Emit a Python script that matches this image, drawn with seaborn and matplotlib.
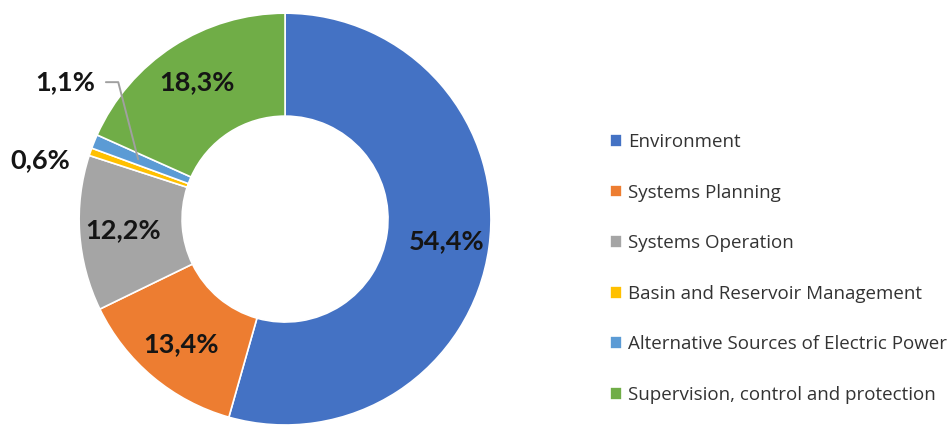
import numpy as np
import matplotlib
matplotlib.use("Agg")
import matplotlib.pyplot as plt
import seaborn as sns

# Data
categories = ["Environment", "Systems Planning", "Systems Operation",
              "Basin and Reservoir Management", "Alternative Sources of Electric Power",
              "Supervision, control and protection"]
shares = [54.4, 13.4, 12.2, 0.6, 1.1, 18.3]
pct_labels = ["54,4%", "13,4%", "12,2%", "0,6%", "1,1%", "18,3%"]
colors = ["#4472C4", "#ED7D31", "#A5A5A5", "#FFC000", "#5B9BD5", "#70AD47"]

sns.set_theme(style="white")
plt.rcParams['font.family'] = ['Lato', 'DejaVu Sans']

fig = plt.figure(figsize=(9.5, 4.25), dpi=100)
ax = fig.add_axes([0.0832, 0.0, 0.4337, 0.969])

wedges, _ = ax.pie(shares, colors=sns.color_palette(colors), startangle=90,
                   counterclock=False, radius=1.0,
                   wedgeprops=dict(width=0.5, edgecolor="white", linewidth=1.2))
ax.set_xlim(-1, 1)
ax.set_ylim(-1, 1)
ax.set_aspect("equal")
ax.axis("off")

lbl = dict(ha="center", va="center", fontsize=19.5, fontweight="bold", color="#151515")

# percentage labels inside the ring
for i, w in enumerate(wedges):
    mid = np.deg2rad((w.theta1 + w.theta2) / 2)
    if shares[i] >= 5:
        ax.text(0.79 * np.cos(mid), 0.79 * np.sin(mid), pct_labels[i], **lbl)

# small slices labelled outside
ax.text(-1.19, 0.285, pct_labels[3], **lbl)

mid_alt = np.deg2rad((wedges[4].theta1 + wedges[4].theta2) / 2)
ax.text(-1.07, 0.665, pct_labels[4], **lbl)
ax.plot([-0.87, -0.81, 0.77 * np.cos(mid_alt)], [0.665, 0.665, 0.77 * np.sin(mid_alt)],
        color="#A0A0A0", lw=1.4, clip_on=False)

leg = fig.legend(wedges, categories, loc="upper left", bbox_to_anchor=(0.624, 0.727),
                 frameon=False, handlelength=0.68, handleheight=0.68, handletextpad=0.3,
                 labelspacing=1.74, prop={"family": "Open Sans", "size": 13.5})
for t in leg.get_texts():
    t.set_color("#333333")

fig.savefig("out.png", dpi=100)
